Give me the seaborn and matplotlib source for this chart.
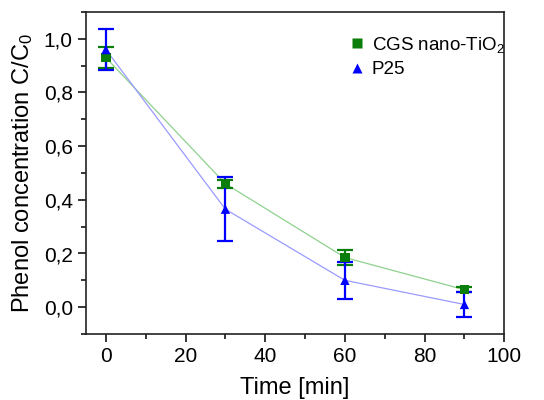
import numpy as np
import pandas as pd
import matplotlib
matplotlib.use("Agg")
import matplotlib.pyplot as plt
import seaborn as sns
from matplotlib.ticker import MultipleLocator, FuncFormatter

time = [0, 30, 60, 90]
cgs_vals = [0.93, 0.46, 0.185, 0.065]
cgs_err = [0.04, 0.015, 0.027, 0.01]
p25_vals = [0.96, 0.365, 0.10, 0.01]
p25_err = [0.075, 0.12, 0.07, 0.045]
series_names = ["CGS nano-TiO$_2$", "P25"]

sns.set_style("ticks")
plt.rcParams['font.family'] = ['Liberation Sans', 'DejaVu Sans']
plt.rcParams['text.color'] = 'black'
plt.rcParams['axes.labelcolor'] = 'black'
plt.rcParams['xtick.color'] = 'black'
plt.rcParams['ytick.color'] = 'black'
plt.rcParams['mathtext.fontset'] = 'custom'
plt.rcParams['mathtext.rm'] = 'Liberation Sans'
plt.rcParams['mathtext.it'] = 'Liberation Sans'

df = pd.DataFrame({
    "time": time * 2,
    "value": cgs_vals + p25_vals,
    "err": cgs_err + p25_err,
    "series": [series_names[0]] * 4 + [series_names[1]] * 4,
})

fig, ax = plt.subplots(figsize=(5.44, 4.0), dpi=100)
fig.subplots_adjust(left=0.158, right=0.927, top=0.97, bottom=0.165)

line_cols = {series_names[0]: "#8fd18f", series_names[1]: "#9a9aff"}
mark_cols = {series_names[0]: "#0a7d0a", series_names[1]: "#0000ff"}
markers = {series_names[0]: "s", series_names[1]: "^"}

sns.lineplot(data=df, x="time", y="value", hue="series", palette=line_cols,
             linewidth=0.9, legend=False, ax=ax, zorder=1)
for name in series_names:
    sub = df[df.series == name]
    ax.errorbar(sub.time, sub.value, yerr=sub.err, fmt="none",
                ecolor=mark_cols[name], elinewidth=1.6, capsize=6, capthick=1.6, zorder=2)
sns.scatterplot(data=df, x="time", y="value", hue="series", style="series",
                palette=mark_cols, markers=markers, s=45, edgecolor="none",
                ax=ax, zorder=3)

ax.set_xlim(-5, 100)
ax.set_ylim(-0.1, 1.1)
ax.xaxis.set_major_locator(MultipleLocator(20))
ax.xaxis.set_minor_locator(MultipleLocator(10))
ax.yaxis.set_major_locator(MultipleLocator(0.2))
ax.yaxis.set_minor_locator(MultipleLocator(0.1))
ax.yaxis.set_major_formatter(FuncFormatter(lambda v, p: f"{v:.1f}".replace(".", ",").replace("-0,0", "0,0")))
ax.tick_params(axis="both", which="major", length=6, width=1.1, labelsize=15, direction="out")
ax.tick_params(axis="both", which="minor", length=3.5, width=1.1, direction="out")
for s in ax.spines.values():
    s.set_linewidth(1.2)
    s.set_color("#222222")

ax.set_xlabel("Time [min]", fontsize=17, labelpad=8)
ax.set_ylabel("Phenol concentration C/C$_0$", fontsize=17, labelpad=6)

leg = ax.legend(loc="upper right", bbox_to_anchor=(1.0, 0.93), frameon=False,
                fontsize=13.5, handletextpad=0.15, borderaxespad=0, borderpad=0,
                labelspacing=0.35, markerscale=1.0, handlelength=1.2)

fig.savefig("out.png", dpi=100)
